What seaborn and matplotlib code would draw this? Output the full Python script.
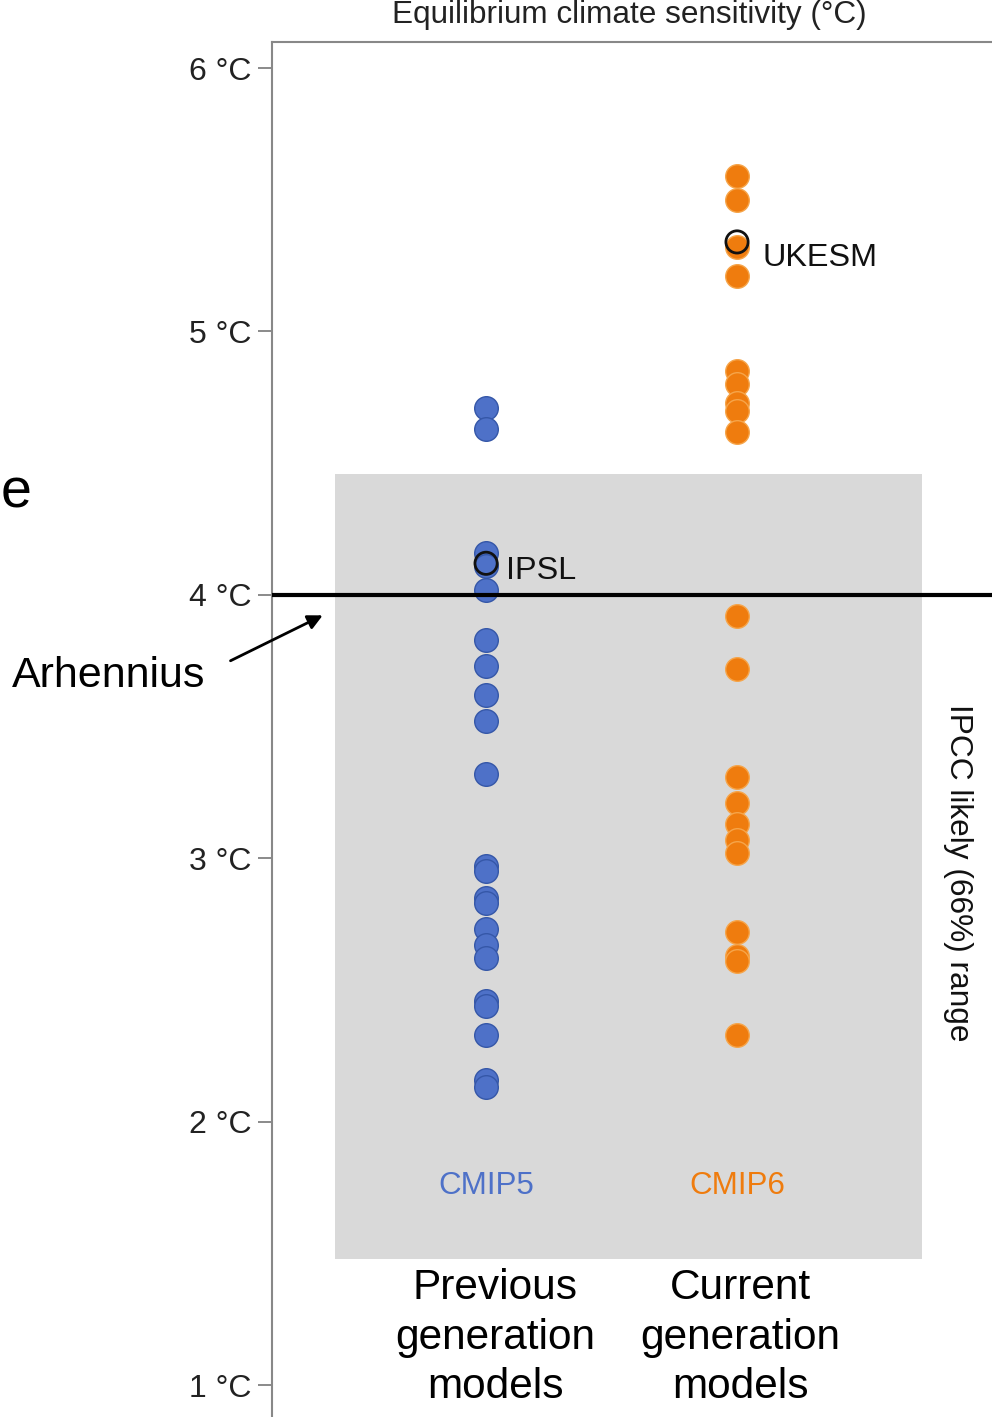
import matplotlib
matplotlib.use("Agg")
import matplotlib.pyplot as plt
import seaborn as sns
import pandas as pd

# ---------------- data ----------------
categories = ["CMIP5", "CMIP6"]
cmip5_ecs = [4.71, 4.63, 4.16, 4.11, 4.02, 3.83, 3.73, 3.62, 3.52, 3.32,
             2.97, 2.95, 2.85, 2.83, 2.73, 2.67, 2.62, 2.46, 2.44, 2.33,
             2.16, 2.13]
cmip6_ecs = [5.59, 5.50, 5.32, 5.21, 4.85, 4.80, 4.73, 4.70, 4.62,
             3.92, 3.72, 3.31, 3.21, 3.13, 3.07, 3.02, 2.72, 2.63, 2.61, 2.33]
highlight_names = ["IPSL", "UKESM"]
highlight_gen = ["CMIP5", "CMIP6"]
highlight_ecs = [4.12, 5.34]
ipcc_range = (1.48, 4.46)
arrhenius_ecs = 4.0
yticks = [1, 2, 3, 4, 5, 6]
ytick_labels = ["1 °C", "2 °C", "3 °C", "4 °C", "5 °C", "6 °C"]
gen_labels = ["Previous\ngeneration\nmodels", "Current\ngeneration\nmodels"]

BLUE = "#4e71c8"
BLUE_EDGE = "#3557a8"
ORANGE = "#ef7c0e"
ORANGE_EDGE = "#f6a54a"
GREY = "#d9d9d9"

df5 = pd.DataFrame({"generation": "CMIP5", "ecs": cmip5_ecs})
df6 = pd.DataFrame({"generation": "CMIP6", "ecs": cmip6_ecs})
dfh = pd.DataFrame({"generation": highlight_gen, "ecs": highlight_ecs,
                    "name": highlight_names})

sns.set_style("white")
plt.rcParams["font.family"] = ["Liberation Sans", "DejaVu Sans"]

W, H = 992, 1417
fig = plt.figure(figsize=(W / 100, H / 100), dpi=100)
ax = fig.add_axes([272 / W, 0.0, 1 - 272 / W, 1 - 42 / H])

# IPCC likely range box
ax.axhspan(ipcc_range[0], ipcc_range[1], xmin=(335 - 272) / 720,
           xmax=(922 - 272) / 720, color=GREY, lw=0, zorder=0)

sns.stripplot(data=df5, x="generation", y="ecs", order=categories, jitter=False,
              color=BLUE, edgecolor=BLUE_EDGE, linewidth=1, size=17, ax=ax, zorder=3)
sns.stripplot(data=df6, x="generation", y="ecs", order=categories, jitter=False,
              color=ORANGE, edgecolor=ORANGE_EDGE, linewidth=1, size=17, ax=ax, zorder=3)
n_before = len(ax.collections)
sns.stripplot(data=dfh, x="generation", y="ecs", order=categories, jitter=False,
              color="black", edgecolor="#111111", linewidth=2, size=16, ax=ax, zorder=4)
for coll in ax.collections[n_before:]:
    coll.set_facecolor("none")
    coll.set_edgecolor("#111111")

# Arrhenius line
ax.axhline(arrhenius_ecs, color="black", lw=3, zorder=5)

ax.set_xlim(-0.853, 2.016)
ax.set_ylim(0.879, 6.099)
ax.set_yticks(yticks)
ax.set_yticklabels(ytick_labels)
ax.set_xticks([])
ax.set_xlabel("")
ax.set_ylabel("")
ax.tick_params(axis="y", left=True, length=10, width=1.2, color="#777777",
               labelsize=23, labelcolor="#222222", pad=5)
for s in ["right", "bottom"]:
    ax.spines[s].set_visible(False)
for s in ["left", "top"]:
    ax.spines[s].set_color("#888888")
    ax.spines[s].set_linewidth(1.5)

# highlighted model labels
label_offsets = {"IPSL": (0.08, -0.03), "UKESM": (0.1, -0.06)}
for name, gen, val in zip(highlight_names, highlight_gen, highlight_ecs):
    xi = categories.index(gen)
    dx, dy = label_offsets[name]
    ax.text(xi + dx, val + dy, name, fontsize=23.3, color="#111111",
            va="center", ha="left", zorder=6)

# category labels
ax.text(0, 1.755, categories[0], color=BLUE, fontsize=22.6, ha="center", va="center")
ax.text(1, 1.755, categories[1], color=ORANGE, fontsize=22.6, ha="center", va="center")
ax.text(0.036, 1.18, gen_labels[0], fontsize=30.5, ha="center", va="center",
        multialignment="center", color="black", linespacing=1.3)
ax.text(1.012, 1.18, gen_labels[1], fontsize=30.5, ha="center", va="center",
        multialignment="center", color="black", linespacing=1.3)

ax.text(1.88, 2.944, "IPCC likely (66%) range", rotation=-90, fontsize=22.8,
        ha="center", va="center", color="#111111")

# title
fig.text(629 / W, 1 - 23 / H, "Equilibrium climate sensitivity (°C)", fontsize=22.7,
         ha="center", va="baseline", color="#222222")

# Arrhenius annotation
fig.text(12 / W, 1 - 676 / H, "Arhennius", fontsize=31, ha="left", va="center",
         color="black")
ax.annotate("", xy=(-0.641, 3.927), xytext=(228, H - 662),
            textcoords="figure pixels",
            arrowprops=dict(arrowstyle="-|>", color="black", lw=2,
                            mutation_scale=22),
            annotation_clip=False)

# letter at left edge
fig.text(0.5 / W, 1 - 508 / H, "e", fontsize=40, ha="left", va="baseline",
         color="black")

fig.savefig("out.png", dpi=100)
